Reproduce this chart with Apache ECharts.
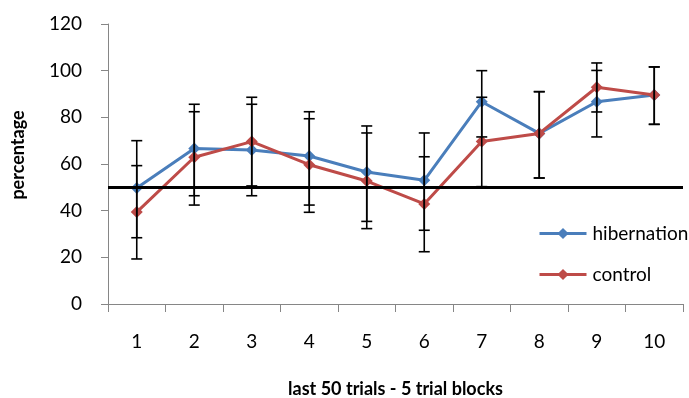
<!DOCTYPE html>
<html>
<head>
<meta charset="utf-8">
<script src="https://cdn.jsdelivr.net/npm/echarts@6/dist/echarts.min.js"></script>
<style>
    html, body { margin: 0; padding: 0; background: #fff; }
    #chart-panel { width: 689px; height: 398px; }
</style>
</head>
<body>
<div id="chart-panel"></div>
<script>
// 数据
var blocks = ['1', '2', '3', '4', '5', '6', '7', '8', '9', '10'];
var hibernation = [49.7, 66.6, 66, 63.4, 56.6, 53, 86.7, 73.1, 86.7, 89.6];
var control = [39.4, 62.9, 69.6, 59.7, 52.7, 42.9, 69.6, 73.1, 92.9, 89.6];
var hibHigh = [70, 85.6, 85.6, 82.4, 76.3, 73.3, 100, 91, 100.1, 101.6];
var hibLow = [28.4, 46.4, 46.4, 42.4, 35.4, 31.6, 71.6, 54, 71.6, 77];
var ctlHigh = [59.3, 82.4, 88.6, 79.4, 73.3, 63.1, 88.6, 91, 103.3, 101.6];
var ctlLow = [19.3, 42.4, 50.6, 39.3, 32.3, 22.4, 50.3, 54, 82.3, 77];
var chanceLevel = 50;

var font = 'Lato, "Liberation Sans", sans-serif';

function errData(low, high) {
    return blocks.map(function (b, i) {
        return [i, low[i], high[i]];
    });
}

// 误差线
function renderErr(params, api) {
    var x = api.value(0);
    var top = api.coord([x, api.value(2)]);
    var bot = api.coord([x, api.value(1)]);
    var w = 5.5;
    var style = { stroke: '#000', lineWidth: 1.6 };
    return {
        type: 'group',
        children: [
            { type: 'line', shape: { x1: top[0], y1: top[1], x2: bot[0], y2: bot[1] }, style: style },
            { type: 'line', shape: { x1: top[0] - w, y1: top[1], x2: top[0] + w, y2: top[1] }, style: style },
            { type: 'line', shape: { x1: bot[0] - w, y1: bot[1], x2: bot[0] + w, y2: bot[1] }, style: style }
        ]
    };
}

var chartOption = {
    backgroundColor: '#fff',
    animation: false,
    textStyle: { fontFamily: font },
    grid: {
        left: 108,
        top: 24,
        right: 6,
        bottom: 94,
        outerBoundsMode: 'none'
    },
    legend: {
        orient: 'vertical',
        left: 533,
        top: 219,
        itemWidth: 47,
        itemHeight: 14,
        itemGap: 22,
        data: ['hibernation', 'control'],
        lineStyle: { width: 3 },
        textStyle: {
            fontFamily: font,
            fontSize: 19,
            color: '#000',
            padding: [0, 0, 0, 1]
        }
    },
    xAxis: {
        type: 'category',
        data: blocks,
        boundaryGap: true,
        name: 'last 50 trials - 5 trial blocks',
        nameLocation: 'middle',
        nameGap: 76,
        nameTextStyle: {
            fontFamily: font,
            fontSize: 18,
            fontWeight: 'bold',
            color: '#000'
        },
        axisLine: { lineStyle: { color: '#868686', width: 1 } },
        axisTick: { show: true, length: 8, lineStyle: { color: '#868686' } },
        axisLabel: {
            margin: 28,
            fontFamily: font,
            fontSize: 19,
            color: '#000'
        }
    },
    yAxis: {
        type: 'value',
        min: 0,
        max: 120,
        interval: 20,
        name: 'percentage',
        nameLocation: 'middle',
        nameGap: 81,
        nameTextStyle: {
            fontFamily: font,
            fontSize: 18,
            fontWeight: 'bold',
            color: '#000',
            padding: [0, 0, 0, 18]
        },
        axisLine: { show: true, lineStyle: { color: '#868686', width: 1 } },
        axisTick: { show: true, length: 7, lineStyle: { color: '#868686' } },
        splitLine: { show: false },
        axisLabel: {
            margin: 26,
            fontFamily: font,
            fontSize: 19,
            color: '#000'
        }
    },
    series: [
        {
            name: 'chance',
            type: 'line',
            data: [],
            silent: true,
            markLine: {
                silent: true,
                symbol: 'none',
                label: { show: false },
                lineStyle: { color: '#000', width: 3, type: 'solid' },
                data: [{ yAxis: chanceLevel }]
            },
            z: 1
        },
        {
            name: 'hibernation',
            type: 'line',
            data: hibernation,
            symbol: 'diamond',
            symbolSize: 12,
            lineStyle: { color: '#4A7EBB', width: 3 },
            itemStyle: { color: '#4A7EBB' },
            z: 3
        },
        {
            name: 'control',
            type: 'line',
            data: control,
            symbol: 'diamond',
            symbolSize: 12,
            lineStyle: { color: '#BE4B48', width: 3 },
            itemStyle: { color: '#BE4B48' },
            z: 4
        },
        {
            type: 'custom',
            renderItem: renderErr,
            data: errData(hibLow, hibHigh),
            silent: true,
            z: 5
        },
        {
            type: 'custom',
            renderItem: renderErr,
            data: errData(ctlLow, ctlHigh),
            silent: true,
            z: 5
        }
    ]
};

var myChart = echarts.init(document.getElementById('chart-panel'));
myChart.setOption(chartOption);
</script>
</body>
</html>
